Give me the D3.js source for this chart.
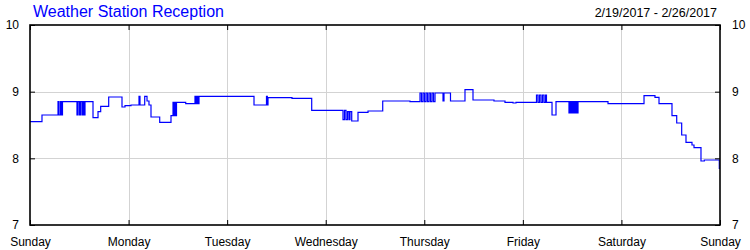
<!DOCTYPE html>
<html>
<head>
<meta charset="utf-8">
<script src="https://cdn.jsdelivr.net/npm/d3@7"></script>
<style>
  body { margin: 0; background: #fff; }
  text { font-family: "Liberation Sans", Arial, sans-serif; }
</style>
</head>
<body>
<svg id="chart" width="750" height="250"></svg>
<script>
// Weather station reception over one week (hours since Sunday 0:00)
var dayLabels = ["Sunday", "Monday", "Tuesday", "Wednesday", "Thursday", "Friday", "Saturday", "Sunday"];
var dayHours = [0, 24, 48, 72, 96, 120, 144, 168];
var yTicks = [7, 8, 9, 10];

var hours = [
  0, 2.92, 6.82, 7.06, 7.43, 7.67, 7.91,
  11.44, 11.69, 12.05, 12.30, 12.66, 12.90, 13.15, 13.39,
  15.34, 16.56, 17.21, 19.16, 22.40, 23.13, 24.59,
  26.54, 26.78, 27.93, 28.49, 28.97, 29.46, 31.58, 34.33,
  34.82, 35.06, 35.30, 35.50, 35.67, 37.91,
  40.17, 40.41, 40.66, 40.90, 41.15, 54.54,
  57.58, 57.78, 57.95, 63.79, 68.59,
  76.21, 76.58, 76.94, 77.31, 77.67, 77.91, 78.33, 79.86, 82.30, 85.88, 92.52,
  94.96, 95.32, 95.69, 96.05, 96.42, 96.78, 97.15, 97.51, 97.88, 98.24, 98.61,
  100.56, 100.80, 102.38, 105.91, 107.86, 112.97, 115.65, 117.60, 118.33,
  123.32, 123.68, 124.05, 124.41, 124.78, 125.14, 125.51, 125.75,
  127.10, 128.07,
  131.23, 131.48, 131.72, 131.97, 132.21, 132.45, 132.70, 132.94, 133.18, 133.43,
  140.73, 149.50, 152.17, 153.15, 156.31, 157.46, 158.67, 159.72, 161.18, 161.67,
  163.37, 164.18, 167.83, 168
];
var reception = [
  8.55, 8.65, 8.85, 8.65, 8.85, 8.65, 8.85,
  8.65, 8.85, 8.65, 8.85, 8.65, 8.85, 8.65, 8.85,
  8.61, 8.70, 8.78, 8.92, 8.77, 8.79, 8.80,
  8.93, 8.80, 8.93, 8.86, 8.80, 8.62, 8.54, 8.64,
  8.84, 8.64, 8.84, 8.64, 8.84, 8.82,
  8.93, 8.82, 8.93, 8.82, 8.93, 8.80,
  8.93, 8.80, 8.91, 8.90, 8.72,
  8.58, 8.72, 8.58, 8.70, 8.58, 8.70, 8.56, 8.69, 8.71, 8.86, 8.85,
  8.98, 8.85, 8.98, 8.85, 8.98, 8.85, 8.98, 8.85, 8.98, 8.85, 8.98,
  8.86, 8.98, 8.86, 9.03, 8.875, 8.86, 8.84, 8.83, 8.84,
  8.95, 8.84, 8.95, 8.84, 8.95, 8.84, 8.95, 8.84,
  8.65, 8.85,
  8.68, 8.85, 8.68, 8.85, 8.68, 8.85, 8.68, 8.85, 8.68, 8.85,
  8.82, 8.94, 8.915, 8.82, 8.64, 8.53, 8.35, 8.24, 8.20, 8.16,
  7.96, 7.975, 7.85, 7.85
];

var plotLeft = 30, plotRight = 720, plotTop = 25, plotBottom = 225;
var svg = d3.select("#chart");

var x = d3.scaleLinear().domain([0, 168]).range([plotLeft, plotRight]);
var y = d3.scaleLinear().domain([7, 10]).range([plotBottom, plotTop]);

// Gridlines
svg.append("g").selectAll("line")
  .data(dayHours.slice(1, -1))
  .enter().append("line")
  .attr("x1", function(d) { return Math.round(x(d)) + 0.5; })
  .attr("x2", function(d) { return Math.round(x(d)) + 0.5; })
  .attr("y1", plotTop).attr("y2", plotBottom)
  .attr("stroke", "#d3d3d3");
svg.append("g").selectAll("line")
  .data(yTicks.slice(1, -1))
  .enter().append("line")
  .attr("x1", plotLeft).attr("x2", plotRight)
  .attr("y1", function(d) { return Math.round(y(d)) + 0.5; })
  .attr("y2", function(d) { return Math.round(y(d)) + 0.5; })
  .attr("stroke", "#d3d3d3");

// Data line
var line = d3.line()
  .x(function(d, i) { return x(hours[i]); })
  .y(function(d) { return y(d); })
  .curve(d3.curveStepAfter);
svg.append("path")
  .datum(reception)
  .attr("d", line)
  .attr("fill", "none")
  .attr("stroke", "#0000ff")
  .attr("stroke-width", 1.2);

// Axes with inward ticks
var xAxisB = d3.axisBottom(x).tickValues(dayHours)
  .tickFormat(function(d, i) { return dayLabels[i]; })
  .tickSizeInner(-5).tickSizeOuter(0).tickPadding(12);
var xAxisT = d3.axisTop(x).tickValues(dayHours).tickFormat("")
  .tickSizeInner(-5).tickSizeOuter(0);
var yAxisL = d3.axisLeft(y).tickValues(yTicks).tickFormat(d3.format("d"))
  .tickSizeInner(-5).tickSizeOuter(0).tickPadding(11);
var yAxisR = d3.axisRight(y).tickValues(yTicks).tickFormat(d3.format("d"))
  .tickSizeInner(-5).tickSizeOuter(0).tickPadding(12);

function styleAxis(g) {
  g.select(".domain").remove();
  g.selectAll("line").attr("stroke", "#000").attr("stroke-width", 1);
  g.selectAll("text").attr("font-size", "12px").attr("fill", "#000")
    .style("font-family", "'Liberation Sans', Arial, sans-serif");
}
svg.append("g").attr("transform", "translate(0," + plotBottom + ")").call(xAxisB).call(styleAxis);
svg.append("g").attr("transform", "translate(0," + plotTop + ")").call(xAxisT).call(styleAxis);
svg.append("g").attr("transform", "translate(" + plotLeft + ",0)").call(yAxisL).call(styleAxis);
svg.append("g").attr("transform", "translate(" + plotRight + ",0)").call(yAxisR).call(styleAxis);

// Frame
svg.append("rect")
  .attr("x", plotLeft).attr("y", plotTop)
  .attr("width", plotRight - plotLeft).attr("height", plotBottom - plotTop)
  .attr("fill", "none").attr("stroke", "#000").attr("stroke-width", 1.6);

// Titles
svg.append("text")
  .attr("x", 33).attr("y", 17)
  .attr("font-size", "16px").attr("fill", "#0000ff")
  .text("Weather Station Reception");
svg.append("text")
  .attr("x", 717).attr("y", 17)
  .attr("text-anchor", "end")
  .attr("font-size", "12.5px").attr("fill", "#000")
  .text("2/19/2017 - 2/26/2017");
</script>
</body>
</html>
